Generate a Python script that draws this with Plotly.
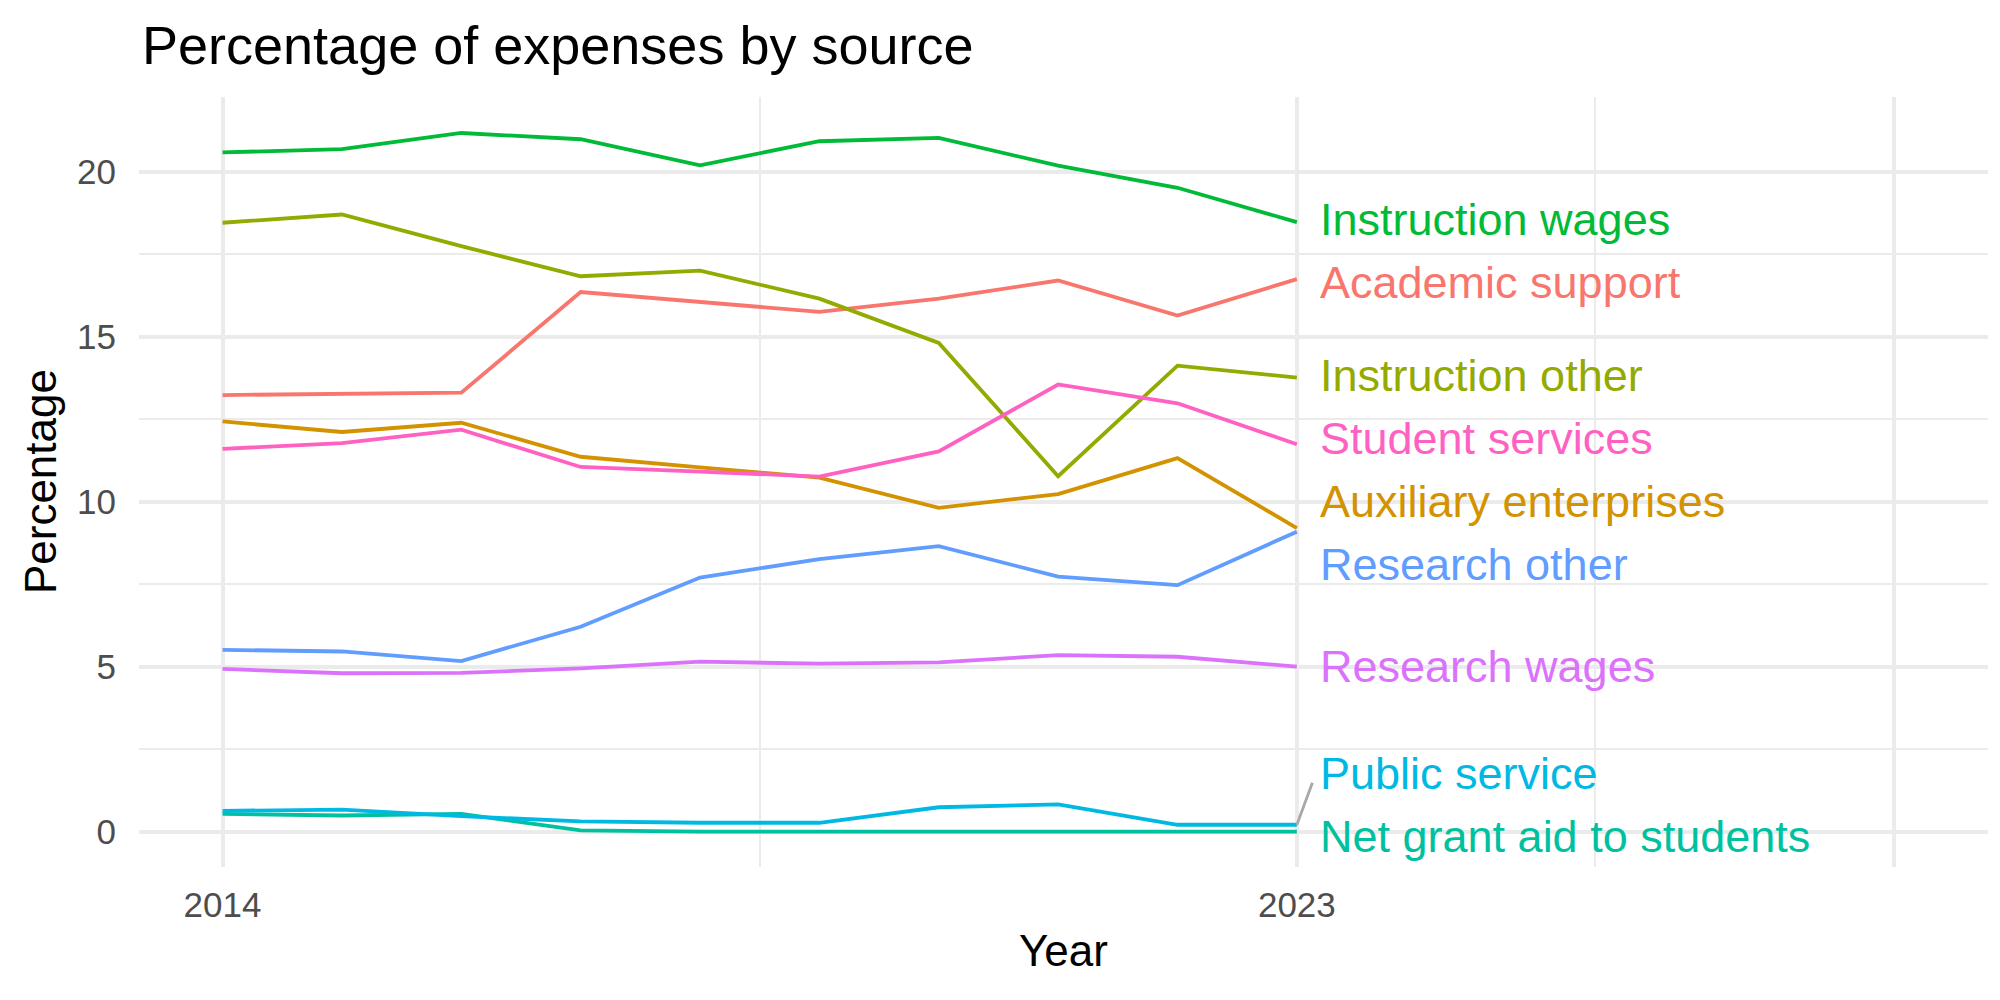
import plotly.graph_objects as go

years = list(range(2014, 2024))

categories = [
    "Academic support", "Auxiliary enterprises", "Instruction other",
    "Instruction wages", "Net grant aid to students", "Public service",
    "Research other", "Research wages", "Student services",
]
academic_support = [13.23, 13.27, 13.30, 16.35, 16.05, 15.75, 16.15, 16.70, 15.64, 16.74]
auxiliary_enterprises = [12.43, 12.11, 12.39, 11.36, 11.04, 10.73, 9.81, 10.23, 11.32, 9.20]
instruction_other = [18.45, 18.70, 17.74, 16.83, 17.00, 16.15, 14.81, 10.77, 14.12, 13.76]
instruction_wages = [20.58, 20.68, 21.17, 20.98, 20.19, 20.92, 21.02, 20.18, 19.51, 18.47]
net_grant_aid = [0.54, 0.49, 0.54, 0.04, 0.0, 0.0, 0.0, 0.0, 0.0, 0.0]
public_service = [0.63, 0.67, 0.47, 0.31, 0.27, 0.27, 0.74, 0.83, 0.21, 0.21]
research_other = [5.51, 5.46, 5.17, 6.21, 7.70, 8.26, 8.65, 7.73, 7.47, 9.09]
research_wages = [4.93, 4.80, 4.81, 4.95, 5.15, 5.09, 5.13, 5.35, 5.30, 5.00]
student_services = [11.60, 11.77, 12.18, 11.05, 10.91, 10.76, 11.52, 13.55, 12.98, 11.74]

series = [academic_support, auxiliary_enterprises, instruction_other,
          instruction_wages, net_grant_aid, public_service,
          research_other, research_wages, student_services]
colors = ["#F8766D", "#D39200", "#93AA00", "#00BA38", "#00C19F",
          "#00B9E3", "#619CFF", "#DB72FB", "#FF61C3"]

FONT = "Liberation Sans, Arial, Helvetica, sans-serif"
LABEL_SIZE = 45

fig = go.Figure()
for name, vals, col in zip(categories, series, colors):
    fig.add_trace(go.Scatter(x=years, y=vals, mode="lines", name=name,
                             line=dict(color=col, width=3.8),
                             showlegend=False, hoverinfo="skip"))

# simple label repel (push overlapping labels apart)
ends = {n: v[-1] for n, v in zip(categories, series)}
order = sorted(categories, key=lambda n: -ends[n])
pos = dict(ends)
min_gap = 1.91
floor = -0.15
for _ in range(2000):
    for a, b in zip(order[:-1], order[1:]):
        d = pos[a] - pos[b]
        if d < min_gap:
            push = (min_gap - d) / 2
            pos[a] += push
            pos[b] -= push
    for n in order:
        if pos[n] < floor:
            pos[n] = floor

last_year = years[-1]
for name, col in zip(categories, colors):
    fig.add_annotation(x=last_year + 0.18, y=pos[name], text=name,
                       xref="x", yref="y", showarrow=False,
                       xanchor="left", yanchor="middle",
                       font=dict(family=FONT, size=LABEL_SIZE, color=col))
    if abs(pos[name] - ends[name]) > 1.3:
        fig.add_trace(go.Scatter(x=[last_year, last_year + 0.13],
                                 y=[ends[name], pos[name] - 0.28],
                                 mode="lines", line=dict(color="#A8A8A8", width=2.8),
                                 showlegend=False, hoverinfo="skip"))

# titles
fig.add_annotation(x=0.0005, y=1.0674, xref="paper", yref="paper",
                   text="Percentage of expenses by source", showarrow=False,
                   xanchor="left", yanchor="middle",
                   font=dict(family=FONT, size=54, color="black"))
fig.add_annotation(x=0.5, y=-0.1083, xref="paper", yref="paper",
                   text="Year", showarrow=False, xanchor="center", yanchor="middle",
                   font=dict(family=FONT, size=44, color="black"))
fig.add_annotation(x=-0.0535, y=0.5, xref="paper", yref="paper",
                   text="Percentage", showarrow=False, textangle=-90,
                   xanchor="center", yanchor="middle",
                   font=dict(family=FONT, size=44, color="black"))

grid = "#EBEBEB"
fig.update_layout(
    width=2000, height=1000,
    margin=dict(l=139, r=12, t=97, b=133),
    plot_bgcolor="white", paper_bgcolor="white",
    font=dict(family=FONT),
    xaxis=dict(range=[2013.30, 2028.79], tickmode="array",
               tickvals=[2014, 2023, 2028], ticktext=["2014", "2023", ""],
               showgrid=True, gridcolor=grid, gridwidth=3.5, zeroline=False,
               showline=False, ticks="", ticklabelstandoff=14,
               tickfont=dict(family=FONT, size=35, color="#4D4D4D"),
               minor=dict(tickmode="array", tickvals=[2018.5, 2025.5],
                          showgrid=True, gridcolor=grid, gridwidth=1.8)),
    yaxis=dict(range=[-1.07, 22.26], tickmode="array",
               tickvals=[0, 5, 10, 15, 20],
               showgrid=True, gridcolor=grid, gridwidth=3.5, zeroline=False,
               showline=False, ticks="", ticklabelstandoff=22,
               tickfont=dict(family=FONT, size=35, color="#4D4D4D"),
               minor=dict(tickmode="array", tickvals=[2.5, 7.5, 12.5, 17.5],
                          showgrid=True, gridcolor=grid, gridwidth=1.8)),
)

fig.write_html("out.html")
